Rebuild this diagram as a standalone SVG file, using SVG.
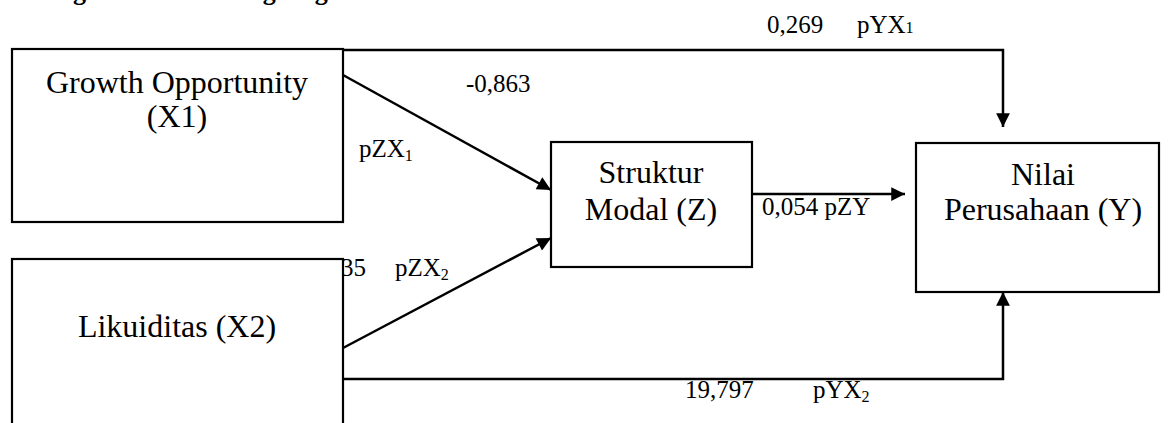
<svg xmlns="http://www.w3.org/2000/svg" width="1168" height="423" viewBox="0 0 1168 423">
<style>
.box{fill:#fff;stroke:#000;stroke-width:2.2}
.bt{font-family:"Liberation Serif","Times New Roman",serif;font-size:32px;fill:#000;text-anchor:middle}
.lb{font-family:"Liberation Serif","Times New Roman",serif;font-size:25px;fill:#000}
.sub{font-size:16px}
.ln{fill:none;stroke:#000;stroke-width:2.5}
.hd{font-family:"Liberation Serif","Times New Roman",serif;font-size:26px;font-weight:bold;fill:#000}
</style>
<defs>
<marker id="ar" viewBox="0 0 10 10" refX="10" refY="5" markerWidth="6" markerHeight="5.5" orient="auto" markerUnits="strokeWidth">
<path d="M0,0 L10,5 L0,10 Z" fill="#000"/>
</marker>
</defs>
<rect width="1168" height="423" fill="#fff"/>
<text class="hd" x="31" y="0">Pengaruh Tidak Langsung</text>
<text class="lb" x="341" y="276">35</text>
<g id="connectors">
<polyline class="ln" points="343,50 1003,50 1003,127" marker-end="url(#ar)"/>
<line class="ln" x1="343" y1="75" x2="551" y2="190" marker-end="url(#ar)"/>
<line class="ln" x1="343" y1="348" x2="551" y2="238" marker-end="url(#ar)"/>
<line class="ln" x1="752" y1="194" x2="905" y2="194" marker-end="url(#ar)"/>
<polyline class="ln" points="343,379 1003,379 1003,292" marker-end="url(#ar)"/>
</g>
<g id="x1">
<rect class="box" x="12" y="49" width="331" height="173"/>
<text class="bt" x="177" y="93">Growth Opportunity</text>
<text class="bt" x="177" y="127">(X1)</text>
</g>
<g id="x2">
<rect class="box" x="12" y="259" width="331" height="180"/>
<text class="bt" x="177" y="337">Likuiditas (X2)</text>
</g>
<g id="z">
<rect class="box" x="551" y="142" width="201" height="125"/>
<text class="bt" x="651" y="183">Struktur</text>
<text class="bt" x="651" y="220">Modal (Z)</text>
</g>
<g id="y">
<rect class="box" x="916" y="143" width="243" height="149"/>
<text class="bt" x="1043" y="185">Nilai</text>
<text class="bt" x="1043" y="220">Perusahaan (Y)</text>
</g>
<g id="labels">
<text class="lb" x="767" y="33">0,269</text>
<text class="lb" x="857" y="33">pYX<tspan class="sub">1</tspan></text>
<text class="lb" x="466" y="92">-0,863</text>
<text class="lb" x="359" y="157">pZX<tspan class="sub" dy="4">1</tspan></text>
<text class="lb" x="395" y="276">pZX<tspan class="sub" dy="4">2</tspan></text>
<text class="lb" x="762" y="215">0,054 pZY</text>
<text class="lb" x="685" y="398">19,797</text>
<text class="lb" x="813" y="398">pYX<tspan class="sub" dy="4">2</tspan></text>
</g>
</svg>
